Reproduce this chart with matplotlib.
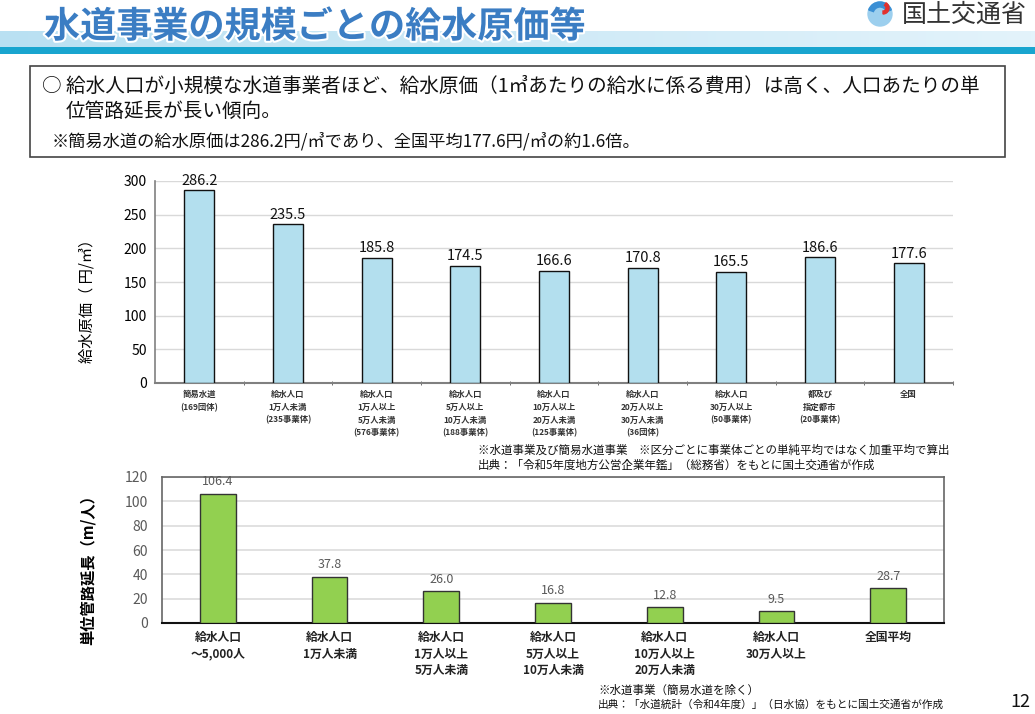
import numpy as np
import matplotlib
matplotlib.use("Agg")
import matplotlib.pyplot as plt
from matplotlib import patheffects as pe
from matplotlib.patches import Rectangle, Circle, Wedge
from matplotlib.colors import LinearSegmentedColormap

plt.rcParams['font.family'] = ['Noto Sans CJK JP', 'DejaVu Sans']

# ---------------- data ----------------
cost_categories = [
    "簡易水道\n(169団体)",
    "給水人口\n1万人未満\n(235事業体)",
    "給水人口\n1万人以上\n5万人未満\n(576事業体)",
    "給水人口\n5万人以上\n10万人未満\n(188事業体)",
    "給水人口\n10万人以上\n20万人未満\n(125事業体)",
    "給水人口\n20万人以上\n30万人未満\n(36団体)",
    "給水人口\n30万人以上\n(50事業体)",
    "都及び\n指定都市\n(20事業体)",
    "全国",
]
cost_values = [286.2, 235.5, 185.8, 174.5, 166.6, 170.8, 165.5, 186.6, 177.6]
cost_yticks = [0, 50, 100, 150, 200, 250, 300]

pipe_categories = [
    "給水人口\n～5,000人",
    "給水人口\n1万人未満",
    "給水人口\n1万人以上\n5万人未満",
    "給水人口\n5万人以上\n10万人未満",
    "給水人口\n10万人以上\n20万人未満",
    "給水人口\n30万人以上",
    "全国平均",
]
pipe_values = [106.4, 37.8, 26.0, 16.8, 12.8, 9.5, 28.7]
pipe_yticks = [0, 20, 40, 60, 80, 100, 120]

W, H = 1035, 714
fig = plt.figure(figsize=(W / 100, H / 100), dpi=100)

def fx(px):
    return px / W

def fy(py):
    return 1 - py / H

# ---------------- header ----------------
bg = fig.add_axes([0, 0, 1, 1], zorder=-5)
bg.set_xlim(0, W)
bg.set_ylim(H, 0)
bg.axis('off')
grad = np.linspace(0, 1, 256).reshape(1, -1)
cmap = LinearSegmentedColormap.from_list('band', ['#b9e0f2', '#e3f3fb'])
bg.imshow(grad, extent=[0, W, 48, 31], aspect='auto', cmap=cmap, zorder=0)
bg.add_patch(Rectangle((0, 47), W, 7, color='#19a5cf', lw=0, zorder=1))

fig.text(fx(44), fy(27), "水道事業の規模ごとの給水原価等", fontsize=26, fontweight='bold',
         color='#3b7dc3', va='center', ha='left',
         path_effects=[pe.withStroke(linewidth=3, foreground='white')])

# logo
bg.add_patch(Circle((880, 14), 12, color='#9ccfee', zorder=2))
bg.add_patch(Wedge((880, 14), 12, 200, 340, width=5, color='#3a8fd4', zorder=3))
bg.add_patch(Wedge((883, 8), 6, 300, 90, width=3, color='#e2302d', zorder=3))
fig.text(fx(902), fy(15), "国土交通省", fontsize=18, color='#333333', va='center', ha='left')

# summary box
bg.add_patch(Rectangle((30, 66), 975, 91, fill=False, ec='#444444', lw=1.2, zorder=2))
fig.text(fx(42), fy(86), "○ 給水人口が小規模な水道事業者ほど、給水原価（1㎥あたりの給水に係る費用）は高く、人口あたりの単",
         fontsize=14.1, va='center', ha='left', color='#111111')
fig.text(fx(66), fy(111), "位管路延長が長い傾向。", fontsize=14.1, va='center', ha='left', color='#111111')
fig.text(fx(52), fy(141), "※簡易水道の給水原価は286.2円/㎥であり、全国平均177.6円/㎥の約1.6倍。",
         fontsize=12.4, va='center', ha='left', color='#111111')

# ---------------- top chart ----------------
ax1 = fig.add_axes([fx(155), fy(383), fx(953 - 155), (383 - 181) / H])
x1 = np.arange(len(cost_values))
bars1 = ax1.bar(x1, cost_values, width=0.34, color='#b3dfee', edgecolor='#111111', linewidth=1, zorder=3)
ax1.set_xlim(-0.5, len(cost_values) - 0.5)
ax1.set_ylim(0, 300)
ax1.set_yticks(cost_yticks)
ax1.set_yticklabels([str(v) for v in cost_yticks], fontsize=10)
ax1.yaxis.grid(True, color='#d9d9d9', lw=1, zorder=0)
ax1.set_axisbelow(True)
ax1.spines['top'].set_visible(False)
ax1.spines['right'].set_visible(False)
ax1.spines['left'].set_color('#808080')
ax1.spines['bottom'].set_color('#808080')
ax1.spines['bottom'].set_linewidth(1.5)
ax1.spines['left'].set_linewidth(1.2)
ax1.tick_params(axis='y', length=0, pad=6)
ax1.set_xticks(x1)
ax1.set_xticklabels(cost_categories, fontsize=6, fontweight='bold', color='#333333', linespacing=1.55)
ax1.tick_params(axis='x', length=0, pad=5)
ax1.set_xticks(np.arange(0.5, len(cost_values), 1), minor=True)
ax1.tick_params(axis='x', which='minor', length=3, direction='inout', color='#555555')
for b, v in zip(bars1, cost_values):
    ax1.annotate(f"{v:.1f}", (b.get_x() + b.get_width() / 2, v), xytext=(0, 2),
                 textcoords='offset points', ha='center', va='bottom', fontsize=10.5, color='#111111')
ax1.set_ylabel("給水原価（ 円/㎥）", fontsize=11)
ax1.yaxis.set_label_coords(-(155 - 96) / (953 - 155), (383 - 297) / (383 - 181))

fig.text(fx(478), fy(450), "※水道事業及び簡易水道事業　※区分ごとに事業体ごとの単純平均ではなく加重平均で算出",
         fontsize=8.3, va='center', ha='left', color='#111111')
fig.text(fx(478), fy(465), "出典：「令和5年度地方公営企業年鑑」（総務省）をもとに国土交通省が作成",
         fontsize=8.3, va='center', ha='left', color='#111111')

# ---------------- bottom chart ----------------
ax2 = fig.add_axes([fx(162), fy(623), fx(944 - 162), (623 - 477) / H])
x2 = np.arange(len(pipe_values))
bars2 = ax2.bar(x2, pipe_values, width=0.32, color='#92d050', edgecolor='#333333', linewidth=1, zorder=3)
ax2.set_xlim(-0.5, len(pipe_values) - 0.5)
ax2.set_ylim(0, 120)
ax2.set_yticks(pipe_yticks)
ax2.set_yticklabels([str(v) for v in pipe_yticks], fontsize=10, color='#595959')
ax2.yaxis.grid(True, color='#dcdcdc', lw=1.2, zorder=0)
ax2.set_axisbelow(True)
for s in ['top', 'right', 'left']:
    ax2.spines[s].set_color('#666666')
    ax2.spines[s].set_linewidth(1.2)
ax2.spines['bottom'].set_color('#111111')
ax2.spines['bottom'].set_linewidth(1.5)
ax2.tick_params(axis='y', length=0, pad=10)
ax2.set_xticks(x2)
ax2.set_xticklabels(pipe_categories, fontsize=8.5, fontweight='bold', color='#222222', linespacing=1.35)
ax2.tick_params(axis='x', length=0, pad=6)
for b, v in zip(bars2, pipe_values):
    ax2.annotate(f"{v:.1f}", (b.get_x() + b.get_width() / 2, v), xytext=(0, 4),
                 textcoords='offset points', ha='center', va='bottom', fontsize=9, color='#595959')
ax2.set_ylabel("単位管路延長（m/人）", fontsize=11, fontweight='bold')
ax2.yaxis.set_label_coords(-(162 - 96) / (944 - 162), (623 - 566) / (623 - 477))

fig.text(fx(598), fy(690), "※水道事業（簡易水道を除く）", fontsize=8.3, va='center', ha='left', color='#111111')
fig.text(fx(598), fy(705), "出典：「水道統計（令和4年度）」（日水協）をもとに国土交通省が作成",
         fontsize=7.7, va='center', ha='left', color='#111111')
fig.text(fx(1030), fy(702), "12", fontsize=13, va='center', ha='right', color='#111111')

fig.savefig("out.png", dpi=100)
